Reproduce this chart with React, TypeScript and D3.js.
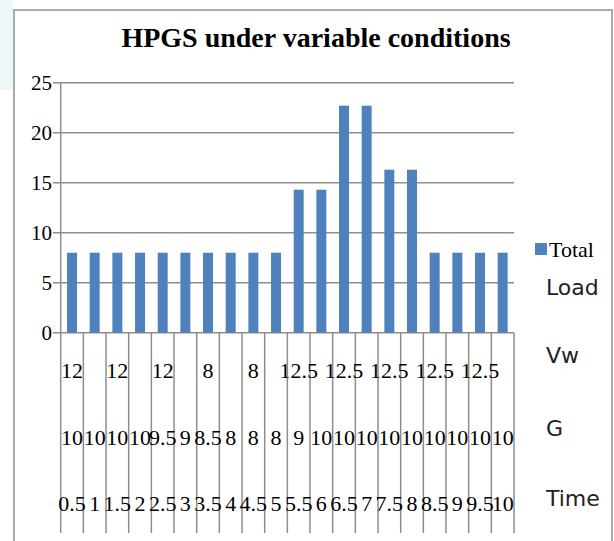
import React from 'react';
import * as d3 from 'd3';

// category levels (bottom-up: Time, G, Vw)
const timeLabels = ['0.5', '1', '1.5', '2', '2.5', '3', '3.5', '4', '4.5', '5', '5.5', '6', '6.5', '7', '7.5', '8', '8.5', '9', '9.5', '10'];
const gLabels = ['10', '10', '10', '10', '9.5', '9', '8.5', '8', '8', '8', '9', '10', '10', '10', '10', '10', '10', '10', '10', '10'];
const vwLabels = ['12', '', '12', '', '12', '', '8', '', '8', '', '12.5', '', '12.5', '', '12.5', '', '12.5', '', '12.5', ''];
const totalValues = [8, 8, 8, 8, 8, 8, 8, 8, 8, 8, 14.3, 14.3, 22.7, 22.7, 16.3, 16.3, 8, 8, 8, 8];
const yTicks = [0, 5, 10, 15, 20, 25];
const rowNames = ['Load', 'Vw', 'G', 'Time'];

const W = 614;
const H = 541;
const left = 60.7;
const right = 514;
const top = 82.7;
const bottom = 332.7;

const App: React.FC = () => {
    const x = d3.scaleBand<number>()
        .domain(d3.range(totalValues.length))
        .range([left, right])
        .paddingInner(0.56)
        .paddingOuter(0.28);

    const edges = d3.scaleLinear()
        .domain([0, totalValues.length])
        .range([left, right]);

    const y = d3.scaleLinear()
        .domain([0, 25])
        .range([bottom, top]);

    const serif = '"Liberation Serif", "Times New Roman", serif';
    const sans = '"DejaVu Sans", Verdana, sans-serif';
    const grid = '#8e8e8e';

    const rowsY = [370, 437, 503];
    const rows = [vwLabels, gLabels, timeLabels];
    const headerY = [287, 355, 428, 498];

    return (
        <svg width={W} height={H} style={{ position: 'absolute', left: 0, top: 0, background: '#fff' }}>
            {/* faint background outside chart */}
            <rect x={0} y={0} width={13} height={90} fill="#eef7f9" />
            <rect x={14} y={10} width={598} height={H} fill="#fff" stroke="#ababab" strokeWidth={2} />

            <text x={316} y={47} textAnchor="middle" fontFamily={serif} fontWeight="bold" fontSize={28} fill="#000">
                HPGS under variable conditions
            </text>

            {/* horizontal gridlines + y ticks */}
            {yTicks.map(t => (
                <g key={t}>
                    <line x1={53} x2={right} y1={y(t)} y2={y(t)} stroke={grid} strokeWidth={1.5} />
                    <text x={52} y={y(t)} dy="0.35em" textAnchor="end" fontFamily={serif} fontSize={21} fill="#000">
                        {t}
                    </text>
                </g>
            ))}

            {/* bars */}
            {totalValues.map((v, i) => (
                <rect key={i} x={x(i)} y={y(v)} width={x.bandwidth()} height={y(0) - y(v)} fill="#4f81bd" />
            ))}

            {/* y axis */}
            <line x1={left} x2={left} y1={top} y2={bottom} stroke={grid} strokeWidth={1.5} />

            {/* category boundaries */}
            {d3.range(totalValues.length + 1).map(i => (
                <line key={i} x1={edges(i)} x2={edges(i)} y1={bottom} y2={533} stroke={grid} strokeWidth={1.5} />
            ))}

            {/* multi-level category labels */}
            {rows.map((labels, r) => labels.map((lab, i) => (
                <text key={`${r}-${i}`} x={x(i)! + x.bandwidth() / 2} y={rowsY[r]} dy="0.35em" textAnchor="middle"
                    fontFamily={serif} fontSize={22} fill="#000">
                    {lab}
                </text>
            )))}

            {/* legend */}
            <rect x={535} y={243} width={12} height={12} fill="#4f81bd" />
            <text x={549} y={249} dy="0.35em" fontFamily={serif} fontSize={22} fill="#000">Total</text>

            {/* level names */}
            {rowNames.map((n, i) => (
                <text key={n} x={546} y={headerY[i]} dy="0.35em" fontFamily={sans} fontSize={22} fill="#222">
                    {n}
                </text>
            ))}
        </svg>
    );
};

export default App;
